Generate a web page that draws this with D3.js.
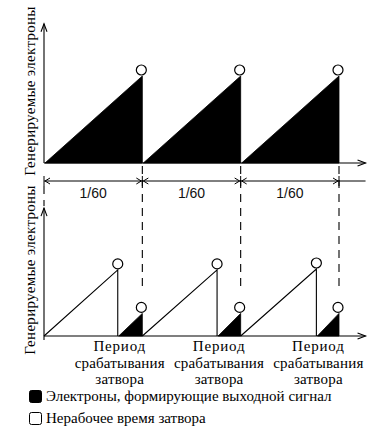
<!DOCTYPE html>
<html>
<head>
<meta charset="utf-8">
<script src="https://cdn.jsdelivr.net/npm/d3@7"></script>
<style>
  html, body { margin:0; padding:0; background:#fff; }
  svg { display:block; }
</style>
</head>
<body>
<svg id="chart" width="382" height="431"></svg>
<script>
// ---- data (time in frame periods, charge in periods of accumulation) ----
var periodEdges  = [0, 1, 2, 3];
var periodLabels = ['1/60', '1/60', '1/60'];

// top: full-frame accumulation, one ramp per period
var topStart = [0, 1, 2];
var topEnd   = [1, 2, 3];
var topPeak  = [1, 1, 1];

// bottom: charge discarded until the shutter fires, then the signal part
var shutterAt     = [0.75, 1.76, 2.77];
var discardStart  = [0, 1, 2];
var discardPeak   = [0.76, 0.76, 0.77];
var signalEnd     = [1, 2, 3];
var signalPeak    = [0.26, 0.26, 0.26];

var yLabel      = 'Генерируемые электроны';
var shutterText = ['Период', 'срабатывания', 'затвора'];
var legendItems = [
  { label:'Электроны, формирующие выходной сигнал', fill:'#000' },
  { label:'Нерабочее время затвора', fill:'#fff' }
];

var SERIF = '"Liberation Serif"';
var SANS  = '"Liberation Sans"';

// ---- scales ----
var x    = d3.scaleLinear([0, 3], [44, 339]);
var yTop = d3.scaleLinear([0, 1], [163, 76]);
var yBot = d3.scaleLinear([0, 1], [336, 249]);

var svg = d3.select('#chart');
var line = d3.line();

function serifText(g){
  return g.append('text').style('font-family', SERIF).style('font-size','15px').attr('fill','#000');
}

function arrowHead(g, tx, ty, dir){
  // small open arrowhead, dir: 'up' or 'right'
  var p = dir === 'up' ? [[tx-3, ty+8], [tx, ty], [tx+3, ty+8]]
                       : [[tx-8, ty-3], [tx, ty], [tx-8, ty+3]];
  g.append('path').attr('d', line(p)).attr('fill','none').attr('stroke','#000').attr('stroke-width',1.1);
}

function circleAt(g, cx, cy){
  g.append('circle').attr('cx',cx).attr('cy',cy).attr('r',5)
    .attr('fill','#fff').attr('stroke','#000').attr('stroke-width',1.2);
}

// ---- top panel ----
var gt = svg.append('g');
topStart.forEach(function(s, i){
  var e = topEnd[i];
  gt.append('path')
    .attr('d', line([[x(s)+1, yTop(0)], [x(e), yTop(topPeak[i])], [x(e), yTop(0)]]) + 'Z')
    .attr('fill','#000').attr('stroke','#000').attr('stroke-width',0.8);
  circleAt(gt, x(e) - 1, yTop(topPeak[i]) - 6);
});
gt.append('line').attr('x1',x(0)).attr('x2',x(3.27)).attr('y1',yTop(0)).attr('y2',yTop(0))
  .attr('stroke','#000').attr('stroke-width',1.1);
arrowHead(gt, x(3.27), yTop(0), 'right');
gt.append('line').attr('x1',x(0)).attr('x2',x(0)).attr('y1',yTop(0)).attr('y2',yTop(1.6))
  .attr('stroke','#000').attr('stroke-width',1.1);
arrowHead(gt, x(0), yTop(1.6), 'up');
serifText(gt)
  .attr('transform','translate(35,' + 91 + ') rotate(-90)')
  .attr('text-anchor','middle').attr('letter-spacing',0.3).text(yLabel);

// ---- period marker ----
var gp = svg.append('g');
var py = 181;
gp.append('line').attr('x1',x(0)).attr('x2',x(3.27)).attr('y1',py).attr('y2',py)
  .attr('stroke','#000').attr('stroke-width',1);
periodEdges.forEach(function(t){
  gp.append('line').attr('x1',x(t)).attr('x2',x(t)).attr('y1',py-5).attr('y2',py+5)
    .attr('stroke','#000').attr('stroke-width',1);
});
periodLabels.forEach(function(lab, i){
  var a = x(periodEdges[i]), b = x(periodEdges[i+1]);
  gp.append('path').attr('d', line([[a+6, py-3], [a+1, py], [a+6, py+3]]))
    .attr('fill','none').attr('stroke','#000').attr('stroke-width',1);
  gp.append('path').attr('d', line([[b-6, py-3], [b-1, py], [b-6, py+3]]))
    .attr('fill','none').attr('stroke','#000').attr('stroke-width',1);
  gp.append('text').style('font-family', SANS).style('font-size','14px').attr('fill','#111')
    .attr('text-anchor','middle').attr('x', (a+b)/2).attr('y', 198).text(lab);
});

// dashed guides from top baseline down into the bottom panel
periodEdges.slice(1).forEach(function(t){
  gp.append('line').attr('x1',x(t)).attr('x2',x(t)).attr('y1',yTop(0)+3).attr('y2',291)
    .attr('stroke','#000').attr('stroke-width',1.1).attr('stroke-dasharray','8 6');
});
gp.append('line').attr('x1',x(0)).attr('x2',x(0)).attr('y1',py+5).attr('y2',206)
  .attr('stroke','#000').attr('stroke-width',1.1).attr('stroke-dasharray','8 6');

// ---- bottom panel ----
var gb = svg.append('g');
shutterAt.forEach(function(s, i){
  var d0 = discardStart[i];
  gb.append('path').attr('d', line([[x(d0), yBot(0)], [x(s), yBot(discardPeak[i])], [x(s), yBot(0)]]))
    .attr('fill','none').attr('stroke','#000').attr('stroke-width',1.1);
  circleAt(gb, x(s), yBot(discardPeak[i]) - 6);
  var e = signalEnd[i];
  gb.append('path').attr('d', line([[x(s)+1, yBot(0)], [x(e), yBot(signalPeak[i])], [x(e), yBot(0)]]) + 'Z')
    .attr('fill','#000').attr('stroke','#000').attr('stroke-width',0.8);
  circleAt(gb, x(e) - 1, yBot(signalPeak[i]) - 6);
  shutterText.forEach(function(w, k){
    serifText(gb).attr('text-anchor','middle')
      .attr('x', x(s) + 2).attr('y', 351 + k*16.5).attr('letter-spacing', k === 0 ? 0.8 : 0.2).text(w);
  });
});
gb.append('line').attr('x1',x(0)).attr('x2',x(3.27)).attr('y1',yBot(0)).attr('y2',yBot(0))
  .attr('stroke','#000').attr('stroke-width',1.1);
arrowHead(gb, x(3.27), yBot(0), 'right');
gb.append('line').attr('x1',x(0)).attr('x2',x(0)).attr('y1',yBot(0)+4).attr('y2',yBot(1.47))
  .attr('stroke','#000').attr('stroke-width',1.1);
arrowHead(gb, x(0), yBot(1.47), 'up');
serifText(gb)
  .attr('transform','translate(35,' + 270 + ') rotate(-90)')
  .attr('text-anchor','middle').attr('letter-spacing',0.3).text(yLabel);

// ---- legend ----
var gl = svg.append('g');
legendItems.forEach(function(it, i){
  var yy = 390 + i*22;
  gl.append('rect').attr('x',29.5).attr('y',yy+0.5).attr('width',12).attr('height',12).attr('rx',2)
    .attr('fill',it.fill).attr('stroke','#000').attr('stroke-width',1);
  serifText(gl).attr('x',46).attr('y',yy+11).text(it.label);
});
</script>
</body>
</html>
